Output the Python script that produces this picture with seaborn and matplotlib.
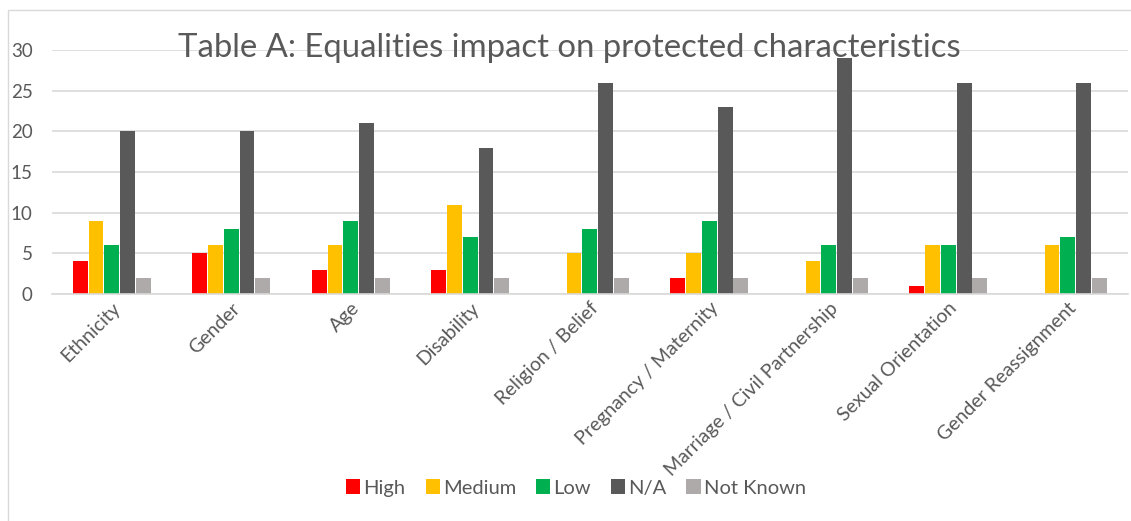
import matplotlib
matplotlib.use("Agg")
import matplotlib.pyplot as plt
import seaborn as sns
import pandas as pd
from matplotlib.patches import Rectangle

categories = ["Ethnicity", "Gender", "Age", "Disability", "Religion / Belief",
              "Pregnancy / Maternity", "Marriage / Civil Partnership",
              "Sexual Orientation", "Gender Reassignment"]
series = ["High", "Medium", "Low", "N/A", "Not Known"]
high = [4, 5, 3, 3, 0, 2, 0, 1, 0]
medium = [9, 6, 6, 11, 5, 5, 4, 6, 6]
low = [6, 8, 9, 7, 8, 9, 6, 6, 7]
na = [20, 20, 21, 18, 26, 23, 29, 26, 26]
not_known = [2, 2, 2, 2, 2, 2, 2, 2, 2]
yticks = [0, 5, 10, 15, 20, 25, 30]
colors = ["#FF0000", "#FFC000", "#00B050", "#595959", "#ADAAA9"]

rows = []
for s, vals in zip(series, [high, medium, low, na, not_known]):
    for c, v in zip(categories, vals):
        rows.append({"cat": c, "series": s, "value": v})
df = pd.DataFrame(rows)

sns.set_theme(style="white")
plt.rcParams["font.family"] = ["Lato", "DejaVu Sans"]
txt = "#595959"

fig = plt.figure(figsize=(11.31, 5.21), dpi=100)
ax = fig.add_axes([0.046, 0.4357, 0.951, 0.4683])
sns.barplot(data=df, x="cat", y="value", hue="series", order=categories,
            hue_order=series, palette=colors, saturation=1, width=0.66, gap=0.06,
            linewidth=0, errorbar=None, ax=ax, legend=True)

ax.set_ylim(0, 30)
ax.set_yticks(yticks)
ax.set_xlim(-0.5, len(categories) - 0.5)
ax.yaxis.grid(True, color="#D9D9D9", linewidth=1.2)
ax.set_axisbelow(True)
for sp in ["top", "right", "left"]:
    ax.spines[sp].set_visible(False)
ax.spines["bottom"].set_color("#D9D9D9")
ax.spines["bottom"].set_linewidth(1.2)
ax.set_xlabel("")
ax.set_ylabel("")
ax.tick_params(axis="y", labelsize=13.5, colors=txt, length=0, pad=14)
ax.tick_params(axis="x", labelsize=14, colors=txt, length=0, pad=4)
for lab in ax.get_xticklabels():
    lab.set_rotation(45)
    lab.set_ha("right")
    lab.set_rotation_mode("anchor")

leg = ax.legend(loc="center", bbox_to_anchor=(576 / 1131, 1 - 488 / 521),
                bbox_transform=fig.transFigure, ncol=5, frameon=False,
                fontsize=14.5, handlelength=0.7, handleheight=0.7,
                handletextpad=0.15, columnspacing=1.0)
for t in leg.get_texts():
    t.set_color(txt)

fig.text(569 / 1131, 1 - 48 / 521, "Table A: Equalities impact on protected characteristics",
         ha="center", va="center", fontsize=23.7, color=txt)

fig.patches.append(Rectangle((8 / 1131, -0.1), 1.2, 1 - 10 / 521 + 0.1,
                             transform=fig.transFigure, fill=False,
                             edgecolor="#D9D9D9", linewidth=1))

fig.savefig("out.png", dpi=100)
